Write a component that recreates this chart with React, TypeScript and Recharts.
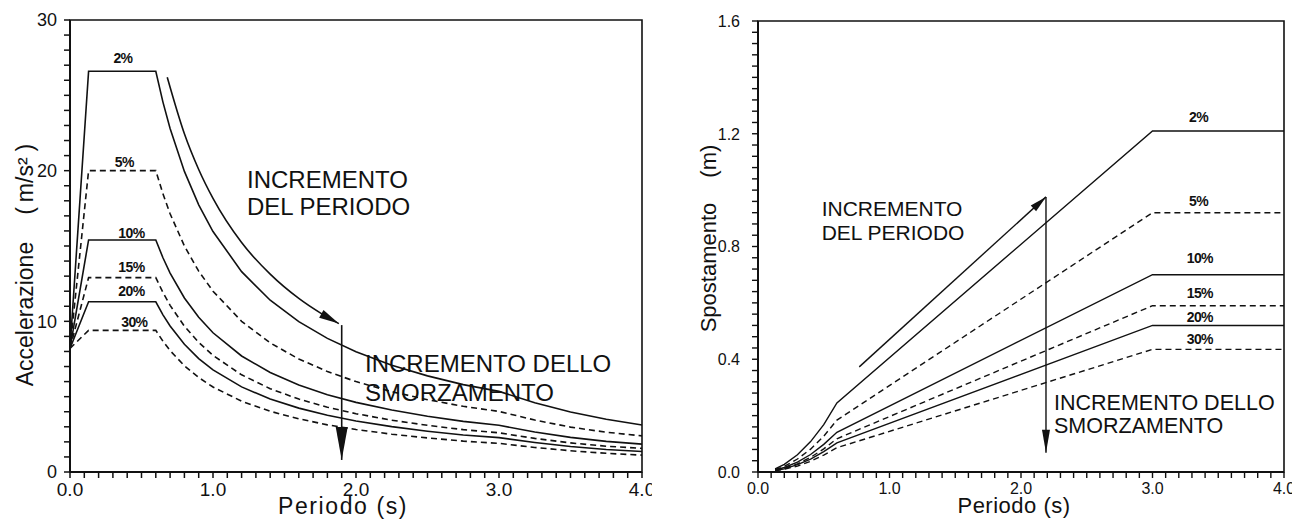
import React from 'react'
import { LineChart, Line, XAxis, YAxis, ReferenceArea, ReferenceDot } from 'recharts'

const FONT = "'Liberation Sans', Arial, Helvetica, sans-serif"

// --- spettri di accelerazione (m/s²) ---
const periodoAcc = [0, 0.13, 0.6, 0.65, 0.7, 0.8, 0.9, 1.0, 1.2, 1.4, 1.6, 1.8, 2.0, 2.25, 2.5, 2.75, 3.0, 3.25, 3.5, 3.75, 4.0]
const acc2 = [8.2, 26.6, 26.6, 24.55, 22.8, 19.95, 17.73, 15.96, 13.3, 11.4, 9.98, 8.87, 7.98, 7.09, 6.38, 5.8, 5.35, 4.6, 3.98, 3.5, 3.12]
const acc5 = [8.2, 20.0, 20.0, 18.46, 17.14, 15.0, 13.33, 12.0, 10.0, 8.57, 7.5, 6.67, 6.0, 5.33, 4.8, 4.36, 4.02, 3.45, 2.98, 2.64, 2.4]
const acc10 = [8.2, 15.4, 15.4, 14.22, 13.2, 11.55, 10.27, 9.24, 7.7, 6.6, 5.78, 5.13, 4.62, 4.11, 3.7, 3.36, 3.1, 2.66, 2.3, 2.03, 1.85]
const acc15 = [8.2, 12.9, 12.9, 11.91, 11.06, 9.68, 8.6, 7.74, 6.45, 5.53, 4.84, 4.3, 3.87, 3.44, 3.1, 2.81, 2.6, 2.23, 1.93, 1.71, 1.57]
const acc20 = [8.2, 11.3, 11.3, 10.43, 9.69, 8.48, 7.53, 6.78, 5.65, 4.84, 4.24, 3.77, 3.39, 3.01, 2.71, 2.46, 2.28, 1.96, 1.69, 1.49, 1.36]
const acc30 = [8.2, 9.4, 9.4, 8.68, 8.06, 7.05, 6.27, 5.64, 4.7, 4.03, 3.53, 3.13, 2.82, 2.51, 2.26, 2.05, 1.9, 1.63, 1.41, 1.24, 1.12]

// freccia curva "incremento del periodo" e freccia verticale
const frecciaPeriodoT = [0.68, 0.8, 0.9, 1.0, 1.2, 1.4, 1.6, 1.75, 1.88]
const frecciaPeriodoA = [26.2, 22.45, 20.08, 18.16, 15.23, 13.13, 11.52, 10.56, 9.85]
const frecciaSmorzT = [1.9, 1.9]
const frecciaSmorzA = [9.75, 0.8]

// --- spettri di spostamento (m) ---
const periodoSp = [0.13, 0.2, 0.3, 0.4, 0.5, 0.6, 3.0, 4.0]
const sp2 = [0.011, 0.027, 0.061, 0.108, 0.168, 0.245, 1.21, 1.21]
const sp5 = [0.009, 0.02, 0.046, 0.081, 0.127, 0.184, 0.92, 0.92]
const sp10 = [0.007, 0.016, 0.035, 0.062, 0.098, 0.141, 0.7, 0.7]
const sp15 = [0.006, 0.013, 0.029, 0.052, 0.082, 0.118, 0.59, 0.59]
const sp20 = [0.005, 0.011, 0.026, 0.046, 0.072, 0.103, 0.52, 0.52]
const sp30 = [0.004, 0.01, 0.021, 0.038, 0.06, 0.086, 0.435, 0.435]

const frecciaSpPeriodoT = [0.77, 2.19]
const frecciaSpPeriodoD = [0.373, 0.976]
const frecciaSpSmorzT = [2.19, 2.19]
const frecciaSpSmorzD = [0.976, 0.068]

const smorzamenti = ['2%', '5%', '10%', '15%', '20%', '30%']
const tratteggiate = [false, true, false, true, false, true]
const etichettaAccT = [0.37, 0.38, 0.43, 0.43, 0.43, 0.45]
const etichettaAccY = [27.47, 20.57, 15.86, 13.6, 12.0, 9.95]
const etichettaSpT = [3.35, 3.35, 3.36, 3.36, 3.36, 3.36]
const etichettaSpY = [1.26, 0.961, 0.759, 0.635, 0.551, 0.472]

const xTicks = Array.from({ length: 41 }, (_, i) => i / 10)
const xTickLabels = [0, 1, 2, 3, 4]
const accTicks = Array.from({ length: 31 }, (_, i) => i)
const accTickLabels = [0, 10, 20, 30]
const spTicks = Array.from({ length: 41 }, (_, i) => Math.round(i * 4) / 100)
const spTickLabels = [0, 0.4, 0.8, 1.2, 1.6]

const serie = (ts: number[], vs: number[]) => ts.map((t, i) => ({ t, v: vs[i] }))
const accSerie = [acc2, acc5, acc10, acc15, acc20, acc30].map((vs) => serie(periodoAcc, vs))
const spSerie = [sp2, sp5, sp10, sp15, sp20, sp30].map((vs) => serie(periodoSp, vs))

const isMajor = (v: number, majors: number[]) => majors.some((m) => Math.abs(m - v) < 1e-6)

const xTick = (majors: number[], fontSize: number) => (props: any) => {
  const { x, y, payload } = props
  if (!isMajor(payload.value, majors)) return <g />
  return (
    <text x={x} y={y} dy="0.71em" textAnchor="middle" fontSize={fontSize} fontFamily={FONT} fill="#111">
      {Number(payload.value).toFixed(1)}
    </text>
  )
}

const yTick = (majors: number[], fontSize: number, digits: number) => (props: any) => {
  const { x, y, payload } = props
  if (!isMajor(payload.value, majors)) return <g />
  return (
    <text x={x} y={y} dy="0.36em" textAnchor="end" fontSize={fontSize} fontFamily={FONT} fill="#111">
      {Number(payload.value).toFixed(digits)}
    </text>
  )
}

const nota = (righe: string[], fontSize: number, passo: number) => (props: any) => {
  const { x, y } = props.viewBox
  return (
    <text x={x} y={y} fontSize={fontSize} fontFamily={FONT} fill="#111" textAnchor="start">
      {righe.map((r, i) => (
        <tspan key={r} x={x} y={y + i * passo} dy="0.36em">{r}</tspan>
      ))}
    </text>
  )
}

const etichetta = (txt: string) => (props: any) => {
  const { x, y } = props.viewBox
  return (
    <text x={x} y={y} dy="0.36em" textAnchor="middle" fontSize={14} fontWeight="bold"
      fontFamily={FONT} letterSpacing={-0.6} fill="#111">
      {txt}
    </text>
  )
}

const Freccia = ({ id, len, w }: { id: string; len: number; w: number }) => (
  <marker id={id} markerUnits="userSpaceOnUse" markerWidth={len} markerHeight={w}
    refX={len} refY={w / 2} orient="auto" overflow="visible">
    <path d={`M0,0 L${len},${w / 2} L0,${w} Z`} fill="#111" />
  </marker>
)

function GraficoAccelerazione() {
  return (
    <LineChart width={655} height={520} margin={{ top: 20, right: 13, bottom: 0, left: 0 }}>
      <defs>
        <Freccia id="fA1" len={20} w={9} />
        <Freccia id="fA2" len={33} w={12} />
      </defs>
      <XAxis dataKey="t" type="number" domain={[0, 4]} ticks={xTicks} interval={0} height={48}
        tickSize={6} tickMargin={5} tick={xTick(xTickLabels, 19)}
        axisLine={{ stroke: '#111', strokeWidth: 2 }} tickLine={{ stroke: '#111', strokeWidth: 1.5 }}
        label={(p: any) => (
          <text x={p.viewBox.x + p.viewBox.width / 2 - 13} y={p.viewBox.y + 42} textAnchor="middle"
            fontSize={23} letterSpacing={1.6} fontFamily={FONT} fill="#111">Periodo (s)</text>
        )} />
      <YAxis dataKey="v" type="number" domain={[0, 30]} ticks={accTicks} interval={0} width={70}
        tickSize={6} tickMargin={7} tick={yTick(accTickLabels, 18, 0)}
        axisLine={{ stroke: '#111', strokeWidth: 2 }} tickLine={{ stroke: '#111', strokeWidth: 1.5 }}
        label={(p: any) => {
          const x = p.viewBox.x + 33
          const y = p.viewBox.y + p.viewBox.height / 2 + 19
          return (
            <text x={x} y={y} transform={`rotate(-90, ${x}, ${y})`} textAnchor="middle"
              fontSize={23} fontFamily={FONT} fill="#111">
              Accelerazione<tspan dx={27}>(</tspan><tspan dx={5}>m/s²</tspan><tspan dx={6}>)</tspan>
            </text>
          )
        }} />
      <ReferenceArea x1={0} x2={4} y1={0} y2={30} fill="none" stroke="#111" strokeWidth={1.6} />
      {accSerie.map((d, i) => (
        <Line key={smorzamenti[i]} data={d} dataKey="v" type="linear" stroke="#111" strokeWidth={1.6}
          strokeDasharray={tratteggiate[i] ? '6 4' : undefined} dot={false} activeDot={false}
          isAnimationActive={false} />
      ))}
      <Line data={serie(frecciaPeriodoT, frecciaPeriodoA)} dataKey="v" type="monotone" stroke="#111"
        strokeWidth={1.6} dot={false} activeDot={false} isAnimationActive={false} markerEnd="url(#fA1)" />
      <Line data={serie(frecciaSmorzT, frecciaSmorzA)} dataKey="v" type="linear" stroke="#111"
        strokeWidth={1.6} dot={false} activeDot={false} isAnimationActive={false} markerEnd="url(#fA2)" />
      {smorzamenti.map((s, i) => (
        <ReferenceDot key={'e' + s} x={etichettaAccT[i]} y={etichettaAccY[i]} r={0} fill="none" stroke="none"
          label={etichetta(s)} />
      ))}
      <ReferenceDot x={1.238} y={19.4} r={0} fill="none" stroke="none"
        label={nota(['INCREMENTO', 'DEL PERIODO'], 24, 27)} />
      <ReferenceDot x={2.063} y={7.23} r={0} fill="none" stroke="none"
        label={nota(['INCREMENTO DELLO', 'SMORZAMENTO'], 24, 29)} />
    </LineChart>
  )
}

function GraficoSpostamento() {
  return (
    <LineChart width={642} height={520} margin={{ top: 21, right: 18, bottom: 0, left: 0 }}>
      <defs>
        <Freccia id="fS1" len={17} w={8} />
        <Freccia id="fS2" len={23} w={8} />
      </defs>
      <XAxis dataKey="t" type="number" domain={[0, 4]} ticks={xTicks} interval={0} height={48}
        tickSize={6} tickMargin={5} tick={xTick(xTickLabels, 16)}
        axisLine={{ stroke: '#111', strokeWidth: 2 }} tickLine={{ stroke: '#111', strokeWidth: 1.4 }}
        label={(p: any) => (
          <text x={p.viewBox.x + p.viewBox.width / 2 - 7} y={p.viewBox.y + 41} textAnchor="middle"
            fontSize={22} letterSpacing={0.5} fontFamily={FONT} fill="#111">Periodo (s)</text>
        )} />
      <YAxis dataKey="v" type="number" domain={[0, 1.6]} ticks={spTicks} interval={0} width={98}
        tickSize={6} tickMargin={12} tick={yTick(spTickLabels, 16, 1)}
        axisLine={{ stroke: '#111', strokeWidth: 2 }} tickLine={{ stroke: '#111', strokeWidth: 1.4 }}
        label={(p: any) => {
          const x = p.viewBox.x + 56
          const y = p.viewBox.y + p.viewBox.height / 2 - 8
          return (
            <text x={x} y={y} transform={`rotate(-90, ${x}, ${y})`} textAnchor="middle"
              fontSize={22} fontFamily={FONT} fill="#111">
              Spostamento<tspan dx={25}>(m)</tspan>
            </text>
          )
        }} />
      <ReferenceArea x1={0} x2={4} y1={0} y2={1.6} fill="none" stroke="#111" strokeWidth={1.6} />
      {spSerie.map((d, i) => (
        <Line key={smorzamenti[i]} data={d} dataKey="v" type="linear" stroke="#111" strokeWidth={1.4}
          strokeDasharray={tratteggiate[i] ? '6 4' : undefined} dot={false} activeDot={false}
          isAnimationActive={false} />
      ))}
      <Line data={serie(frecciaSpPeriodoT, frecciaSpPeriodoD)} dataKey="v" type="linear" stroke="#111"
        strokeWidth={1.4} dot={false} activeDot={false} isAnimationActive={false} markerEnd="url(#fS1)" />
      <Line data={serie(frecciaSpSmorzT, frecciaSpSmorzD)} dataKey="v" type="linear" stroke="#111"
        strokeWidth={1.4} dot={false} activeDot={false} isAnimationActive={false} markerEnd="url(#fS2)" />
      {smorzamenti.map((s, i) => (
        <ReferenceDot key={'e' + s} x={etichettaSpT[i]} y={etichettaSpY[i]} r={0} fill="none" stroke="none"
          label={etichetta(s)} />
      ))}
      <ReferenceDot x={0.484} y={0.936} r={0} fill="none" stroke="none"
        label={nota(['INCREMENTO', 'DEL PERIODO'], 21, 24)} />
      <ReferenceDot x={2.251} y={0.246} r={0} fill="none" stroke="none"
        label={nota(['INCREMENTO DELLO', 'SMORZAMENTO'], 21.5, 23)} />
    </LineChart>
  )
}

export default function App() {
  return (
    <div style={{ position: 'absolute', left: 0, top: 0, width: 1302, height: 520, background: '#fff' }}>
      <div style={{ position: 'absolute', left: 0, top: 0, width: 652, height: 520, overflow: 'hidden' }}>
        <GraficoAccelerazione />
      </div>
      <div style={{ position: 'absolute', left: 660, top: 0, width: 632, height: 520, overflow: 'hidden' }}>
        <GraficoSpostamento />
      </div>
    </div>
  )
}
